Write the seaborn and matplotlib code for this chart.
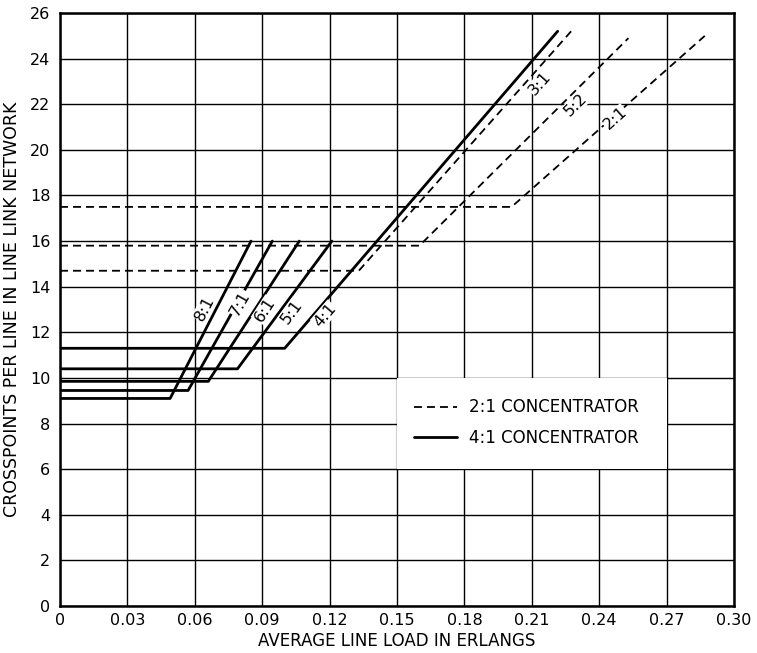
import numpy as np
import pandas as pd
import matplotlib
matplotlib.use("Agg")
import matplotlib.pyplot as plt
import seaborn as sns
from matplotlib.patches import Rectangle
from matplotlib.lines import Line2D

sns.set_style('white')
plt.rcParams['font.family'] = ['DejaVu Sans']
plt.rcParams['text.color'] = 'black'
plt.rcParams['axes.labelcolor'] = 'black'

# 4:1 concentrator curves (solid) - flat level, knee load, end point
ratios_4to1 = ['8:1', '7:1', '6:1', '5:1', '4:1']
flat_4to1 = [9.1, 9.45, 9.85, 10.4, 11.3]
knee_4to1 = [0.049, 0.057, 0.066, 0.079, 0.100]
end_x_4to1 = [0.085, 0.0945, 0.1065, 0.121, 0.2215]
end_y_4to1 = [16.0, 16.0, 16.0, 16.0, 25.2]

# 2:1 concentrator curves (dashed)
ratios_2to1 = ['3:1', '5:2', '2:1']
flat_2to1 = [14.7, 15.8, 17.5]
knee_2to1 = [0.133, 0.160, 0.201]
end_x_2to1 = [0.2275, 0.253, 0.287]
end_y_2to1 = [25.2, 24.9, 25.0]

x_ticks = [0, 0.03, 0.06, 0.09, 0.12, 0.15, 0.18, 0.21, 0.24, 0.27, 0.30]
x_tick_labels = ['0', '0.03', '0.06', '0.09', '0.12', '0.15', '0.18', '0.21', '0.24', '0.27', '0.30']
y_ticks = list(range(0, 27, 2))

# where the ratio labels sit (data coords)
label_pos = {'8:1': (0.0644, 13.06), '7:1': (0.0800, 13.28), '6:1': (0.0912, 12.98),
             '5:1': (0.1031, 12.90), '4:1': (0.1179, 12.76),
             '3:1': (0.2138, 22.93), '5:2': (0.2294, 21.97), '2:1': (0.2472, 21.39)}

rows = []
for name, f, k, ex, ey in zip(ratios_4to1, flat_4to1, knee_4to1, end_x_4to1, end_y_4to1):
    for x, y in [(0, f), (k, f), (ex, ey)]:
        rows.append({'load': x, 'xpts': y, 'curve': name, 'conc': '4:1 CONCENTRATOR'})
for name, f, k, ex, ey in zip(ratios_2to1, flat_2to1, knee_2to1, end_x_2to1, end_y_2to1):
    for x, y in [(0, f), (k, f), (ex, ey)]:
        rows.append({'load': x, 'xpts': y, 'curve': name, 'conc': '2:1 CONCENTRATOR'})
df = pd.DataFrame(rows)

fig = plt.figure(figsize=(7.57, 6.53), dpi=100)
ax = fig.add_axes([0.0793, 0.072, 0.8903, 0.908])

sns.lineplot(data=df, x='load', y='xpts', units='curve', estimator=None, sort=False,
             style='conc', dashes={'2:1 CONCENTRATOR': (4.4, 2.8), '4:1 CONCENTRATOR': ''},
             size='conc', sizes={'2:1 CONCENTRATOR': 1.3, '4:1 CONCENTRATOR': 2.0},
             color='black', legend=False, ax=ax, zorder=3)

ax.set_xlim(0, 0.30)
ax.set_ylim(0, 26)
ax.set_xticks(x_ticks)
ax.set_xticklabels(x_tick_labels)
ax.set_yticks(y_ticks)
ax.grid(True, color='black', linewidth=1.0)
ax.set_axisbelow(True)
for s in ax.spines.values():
    s.set_linewidth(1.8)
    s.set_color('black')
ax.tick_params(axis='both', labelsize=11.5, length=3, width=1, direction='out', colors='black')
ax.tick_params(axis='x', pad=2)
ax.tick_params(axis='y', pad=4)

ax.set_xlabel('AVERAGE LINE LOAD IN ERLANGS', fontsize=12, labelpad=3)
ax.set_ylabel('CROSSPOINTS PER LINE IN LINE LINK NETWORK', fontsize=12.5, labelpad=6)

# ratio labels rotated along their lines
fig.canvas.draw()
for name, f, k, ex, ey in zip(ratios_4to1 + ratios_2to1, flat_4to1 + flat_2to1,
                              knee_4to1 + knee_2to1, end_x_4to1 + end_x_2to1,
                              end_y_4to1 + end_y_2to1):
    p1 = ax.transData.transform((k, f))
    p2 = ax.transData.transform((ex, ey))
    ang = np.degrees(np.arctan2(p2[1] - p1[1], p2[0] - p1[0]))
    lx, ly = label_pos[name]
    ax.text(lx, ly, name, rotation=ang, rotation_mode='anchor', ha='center', va='center',
            fontsize=11.5, zorder=4,
            bbox=dict(facecolor='white', edgecolor='none', pad=0.5))

# white box behind the key
ax.add_patch(Rectangle((0.15, 6), 0.12, 4, facecolor='white', edgecolor='none', zorder=2))
handles = [Line2D([], [], color='black', lw=1.3, dashes=(4.4, 2.8)),
           Line2D([], [], color='black', lw=2.0)]
ax.legend(handles, ['2:1 CONCENTRATOR', '4:1 CONCENTRATOR'], frameon=False, fontsize=12,
          loc='upper left', bbox_to_anchor=(0.1575, 9.1), bbox_transform=ax.transData,
          borderpad=0, borderaxespad=0, handlelength=2.6, handletextpad=0.7,
          labelspacing=0.75)

plt.savefig('out.png', dpi=100)
